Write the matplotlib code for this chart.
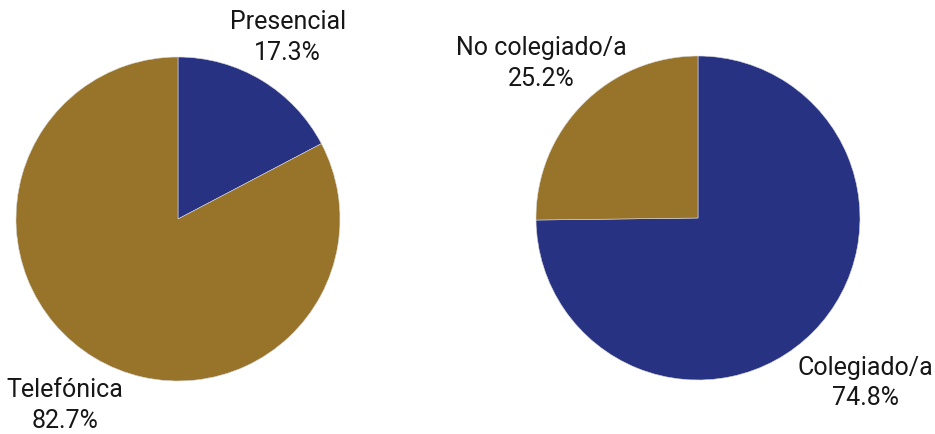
import matplotlib
matplotlib.use("Agg")
import matplotlib.pyplot as plt
import numpy as np

# Data
left_labels = ["Presencial", "Telefónica"]
left_values = [17.3, 82.7]
right_labels = ["Colegiado/a", "No colegiado/a"]
right_values = [74.8, 25.2]

NAVY = "#283283"
GOLD = "#98732A"

plt.rcParams['font.family'] = ['Roboto', 'DejaVu Sans']

W, H = 935, 434
fig = plt.figure(figsize=(W / 100, H / 100), dpi=100)


def make_pie(cx, cy, r, labels, values, colors, dists):
    ax = fig.add_axes([(cx - r) / W, (H - cy - r) / H, 2 * r / W, 2 * r / H])
    texts_in = [f"{l}\n{v:.1f}%" for l, v in zip(labels, values)]
    wedges, texts = ax.pie(values, labels=texts_in, colors=colors, startangle=90,
                           counterclock=False, radius=1,
                           wedgeprops=dict(edgecolor="#d8d8d8", linewidth=0.4),
                           textprops=dict(fontsize=18, color="#161616",
                                          linespacing=1.35))
    for w, t, d in zip(wedges, texts, dists):
        ang = np.deg2rad((w.theta1 + w.theta2) / 2)
        t.set_position((d * np.cos(ang), d * np.sin(ang)))
        t.set_ha("center")
        t.set_va("center")
    ax.set_xlim(-1, 1)
    ax.set_ylim(-1, 1)
    ax.set_aspect("equal")
    ax.axis("off")
    return texts


make_pie(178, 219, 162, left_labels, left_values, [NAVY, GOLD], [1.31, 1.345])
make_pie(698, 218, 162, right_labels, right_values, [NAVY, GOLD], [1.45, 1.36])

fig.savefig("out.png", dpi=100)
